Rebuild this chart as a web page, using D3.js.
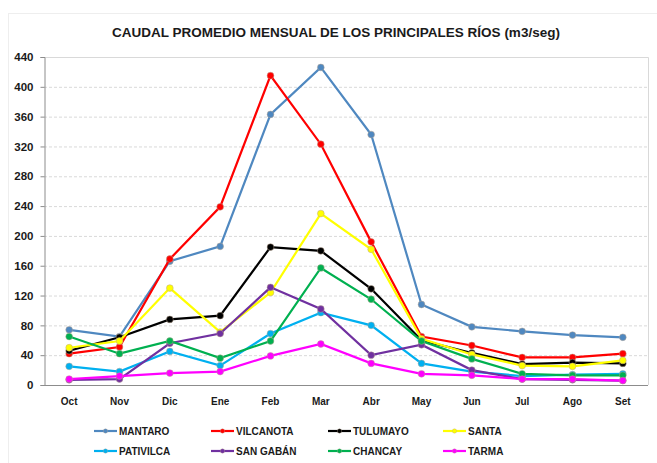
<!DOCTYPE html>
<meta charset="utf-8">
<style>
body { margin: 0; background: #fff; }
text { font-family: "Liberation Sans", "DejaVu Sans", sans-serif; }
.grid line { stroke: #d9d9d9; stroke-dasharray: 3,2; }
</style>
<svg width="657" height="463"></svg>
<script src="https://d3js.org/d3.v7.min.js"></script>
<script>

var months = ["Oct", "Nov", "Dic", "Ene", "Feb", "Mar", "Abr", "May", "Jun", "Jul", "Ago", "Set"];
var yTicks = [0, 40, 80, 120, 160, 200, 240, 280, 320, 360, 400, 440];

var seriesNames = ["MANTARO", "VILCANOTA", "TULUMAYO", "SANTA", "PATIVILCA", "SAN GABÁN", "CHANCAY", "TARMA"];
var seriesColors = ["#4f88c0", "#ff0000", "#000000", "#ffff00", "#00b0f0", "#7030a0", "#00b050", "#ff00ff"];

var mantaro   = [74, 65, 166, 186, 363, 426, 336, 108, 78, 72, 67, 64];
var vilcanota = [42, 51, 169, 239, 415, 323, 192, 65, 53, 37, 37, 42];
var tulumayo  = [46, 64, 88, 93, 185, 180, 129, 60, 43, 28, 30, 29];
var santa     = [50, 59, 130, 71, 124, 230, 182, 62, 41, 26, 25, 33];
var pativilca = [25, 18, 45, 26, 69, 97, 80, 29, 18, 12, 14, 15];
var sanGaban  = [7, 8, 56, 69, 131, 102, 40, 54, 20, 8, 7, 6];
var chancay   = [65, 42, 59, 36, 59, 157, 115, 59, 35, 15, 13, 13];
var tarma     = [8, 12, 16, 18, 39, 55, 29, 15, 13, 8, 8, 6];

var allSeries = [mantaro, vilcanota, tulumayo, santa, pativilca, sanGaban, chancay, tarma];

var svg = d3.select("svg");

// outer chart frame
svg.append("rect")
   .attr("x", 8.5).attr("y", 13.5)
   .attr("width", 660).attr("height", 460)
   .attr("fill", "none")
   .attr("stroke", "#eeeeee");

svg.append("text")
   .attr("x", 336)
   .attr("y", 37)
   .attr("text-anchor", "middle")
   .attr("font-size", "13.5px")
   .attr("font-weight", "bold")
   .attr("fill", "#1a1a1a")
   .text("CAUDAL PROMEDIO MENSUAL DE LOS PRINCIPALES RÍOS (m3/seg)");

var plotLeft = 44, plotRight = 648, plotTop = 57, plotBottom = 385;

var x = d3.scaleBand().domain(months).range([plotLeft, plotRight]);
var y = d3.scaleLinear().domain([0, 440]).range([plotBottom, plotTop]);

// gridlines
svg.append("g")
   .attr("class", "grid")
   .selectAll("line")
   .data(yTicks.slice(1, -1))
   .enter()
   .append("line")
   .attr("x1", plotLeft).attr("x2", plotRight)
   .attr("y1", function(d) { return y(d) + 0.5; })
   .attr("y2", function(d) { return y(d) + 0.5; });

// plot area border (top / right)
svg.append("path")
   .attr("d", "M" + plotLeft + "," + (plotTop + 0.5) + "H" + (plotRight + 0.5) + "V" + plotBottom)
   .attr("fill", "none")
   .attr("stroke", "#d9d9d9");

var yAxis = svg.append("g")
   .attr("transform", "translate(" + (plotLeft + 0.5) + ",0)")
   .call(d3.axisLeft(y).tickValues(yTicks).tickSize(4).tickPadding(7));
yAxis.select(".domain").attr("stroke", "#8c8c8c");
yAxis.selectAll(".tick line").attr("stroke", "#8c8c8c");
yAxis.selectAll("text")
     .attr("font-size", "11.5px")
     .attr("font-weight", "bold")
     .attr("fill", "#1a1a1a")
     .style("font-family", "'Liberation Sans', sans-serif");

var xAxis = svg.append("g")
   .attr("transform", "translate(0," + (plotBottom + 0.5) + ")")
   .call(d3.axisBottom(x).tickSize(0).tickPadding(12));
xAxis.select(".domain").attr("stroke", "#8c8c8c").attr("d", "M" + (plotLeft - 3) + ",0H" + plotRight);
xAxis.selectAll("text")
     .attr("font-size", "10px")
     .attr("font-weight", "bold")
     .attr("fill", "#1a1a1a")
     .style("font-family", "'Liberation Sans', sans-serif");

var line = d3.line()
   .x(function(d, i) { return x(months[i]) + x.bandwidth() / 2; })
   .y(function(d) { return y(d); });

var series = svg.selectAll(".series")
   .data(allSeries)
   .enter()
   .append("g")
   .attr("class", "series");

series.append("path")
   .attr("d", line)
   .attr("fill", "none")
   .attr("stroke", function(d, i) { return seriesColors[i]; })
   .attr("stroke-width", 2.2);

series.each(function(d, i) {
  d3.select(this).selectAll("circle")
    .data(d)
    .enter()
    .append("circle")
    .attr("cx", function(v, j) { return x(months[j]) + x.bandwidth() / 2; })
    .attr("cy", function(v) { return y(v); })
    .attr("r", 3.4)
    .attr("fill", seriesColors[i])
    .attr("stroke", "#b9a48f")
    .attr("stroke-opacity", 0.6)
    .attr("stroke-width", 0.8);
});

// legend
var legendX = [94, 211, 328, 443];
var legendY = [431, 451];

var legend = svg.selectAll(".legend")
   .data(seriesNames)
   .enter()
   .append("g")
   .attr("class", "legend")
   .attr("transform", function(d, i) {
     return "translate(" + legendX[i % 4] + "," + legendY[Math.floor(i / 4)] + ")";
   });

legend.append("line")
   .attr("x1", 0).attr("x2", 23)
   .attr("stroke", function(d, i) { return seriesColors[i]; })
   .attr("stroke-width", 2.2);

legend.append("circle")
   .attr("cx", 11.5)
   .attr("r", 2.2)
   .attr("fill", function(d, i) { return seriesColors[i]; })
   .attr("stroke", "#b9a48f")
   .attr("stroke-opacity", 0.6)
   .attr("stroke-width", 0.6);

legend.append("text")
   .attr("x", 25)
   .attr("y", 4)
   .attr("font-size", "10px")
   .attr("font-weight", "bold")
   .attr("fill", "#1a1a1a")
   .text(function(d) { return d; });

</script>
